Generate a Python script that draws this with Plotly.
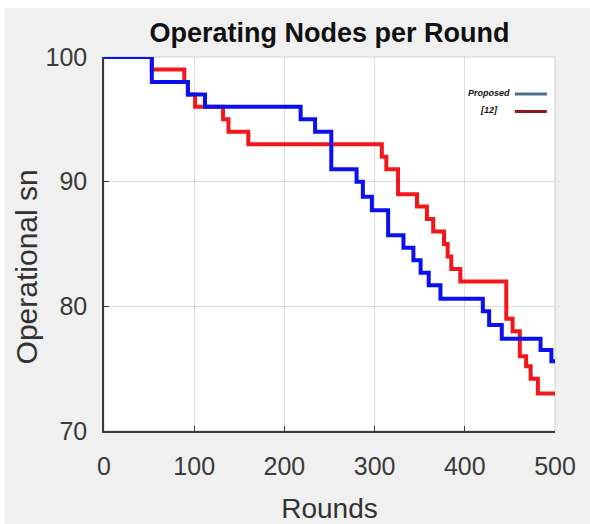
import plotly.graph_objects as go

# ---- data ----
proposed_rounds = [0, 53, 93, 112, 218, 234, 252, 280, 287, 297, 315, 332, 343, 351, 360, 373, 420, 427, 441, 484, 496, 500]
proposed_nodes  = [100, 98, 97, 96, 95, 94, 91, 90, 88.8, 87.7, 85.7, 84.7, 83.7, 82.7, 81.7, 80.6, 79.6, 78.5, 77.4, 76.5, 75.6, 75.6]

ref12_rounds = [0, 53, 89, 93, 101, 132, 138, 160, 308, 313, 326, 347, 358, 365, 377, 381, 385, 395, 446, 453, 461, 468, 473, 481, 500]
ref12_nodes  = [100, 99, 98, 97, 96, 95, 94, 93, 92, 91, 89, 88, 87, 86, 85, 84, 83, 82, 79, 78, 76, 75.2, 74.2, 73, 73]

x_ticks = [0, 100, 200, 300, 400, 500]
y_ticks = [70, 80, 90, 100]

title_text = "Operating Nodes per Round"
x_label = "Rounds"
y_label = "Operational sn"
legend_names = ["Proposed", "[12]"]
legend_colors = ["#4e6f8c", "#8e1a1f"]

FONT = "Liberation Sans, Arial, sans-serif"

fig = go.Figure()
# red first so that the blue line lies on top, as in the reference
fig.add_trace(go.Scatter(x=ref12_rounds, y=ref12_nodes, mode="lines",
                         line=dict(color="#f0181c", width=4, shape="hv"),
                         name=legend_names[1], showlegend=False))
fig.add_trace(go.Scatter(x=proposed_rounds, y=proposed_nodes, mode="lines",
                         line=dict(color="#0a10ee", width=4, shape="hv"),
                         name=legend_names[0], showlegend=False))

# custom legend (text left, sample line right, as in the reference)
leg_y = [0.904, 0.857]
for name, col, yy in zip(legend_names, legend_colors, leg_y):
    fig.add_annotation(xref="paper", yref="paper", x=0.853, y=yy, text="<b><i>" + name + "</i></b>",
                       showarrow=False, xanchor="center", yanchor="middle",
                       font=dict(family="Liberation Sans Narrow, Liberation Sans, Arial", size=9, color="#111"))
    fig.add_shape(type="line", xref="paper", yref="paper", x0=0.911, x1=0.982, y0=yy - 0.003, y1=yy - 0.003,
                  line=dict(color=col, width=3))

# light box on top/right
fig.add_shape(type="rect", xref="x domain", yref="y domain", x0=0, x1=1, y0=0, y1=1,
              line=dict(color="#cfcfcf", width=1), layer="below")

# white strips at the image edge
fig.add_shape(type="rect", xref="paper", yref="paper", x0=-0.24, x1=1.09, y0=1.131, y1=1.16,
              fillcolor="white", line=dict(width=0), layer="below")
fig.add_shape(type="rect", xref="paper", yref="paper", x0=-0.24, x1=-0.2195, y0=-0.26, y1=1.16,
              fillcolor="white", line=dict(width=0), layer="below")

# y label as a rotated annotation
fig.add_annotation(xref="paper", yref="paper", x=-0.173, y=0.44, text=y_label, textangle=-90,
                   showarrow=False, xanchor="center", yanchor="middle",
                   font=dict(family=FONT, size=30, color="#333333"))

fig.update_layout(
    width=590, height=524,
    margin=dict(l=104, r=35, t=57, b=93, autoexpand=False),
    paper_bgcolor="#f0f0f0", plot_bgcolor="white",
    title=dict(text="<b>" + title_text + "</b>", x=0.5, xref="paper", xanchor="center",
               y=1 - 33 / 524, yref="container", yanchor="middle",
               font=dict(family=FONT, size=27, color="#111111")),
    xaxis=dict(range=[0, 500], tickvals=x_ticks, showgrid=True, gridcolor="#dcdcdc", gridwidth=1,
               showline=True, linecolor="#3a3a3a", linewidth=1.5, ticks="inside", ticklen=5,
               tickcolor="#3a3a3a", zeroline=False, ticklabelstandoff=12, automargin=False,
               tickfont=dict(family=FONT, size=25, color="#3a3a3a"),
               title=dict(text=x_label, standoff=20, font=dict(family=FONT, size=28, color="#333333"))),
    yaxis=dict(range=[70, 100], tickvals=y_ticks, showgrid=True, gridcolor="#dcdcdc", gridwidth=1,
               showline=True, linecolor="#3a3a3a", linewidth=1.5, ticks="inside", ticklen=5,
               tickcolor="#3a3a3a", zeroline=False, ticklabelstandoff=10, automargin=False,
               tickfont=dict(family=FONT, size=25, color="#3a3a3a")),
)

fig.write_html("out.html")
